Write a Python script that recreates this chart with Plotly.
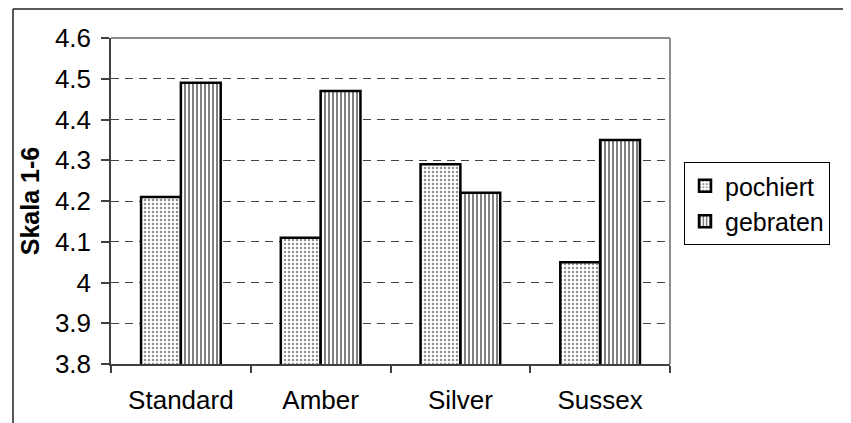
import plotly.graph_objects as go

categories = ["Standard", "Amber", "Silver", "Sussex"]
pochiert = [4.21, 4.11, 4.29, 4.05]
gebraten = [4.49, 4.47, 4.22, 4.35]
y_ticks = [3.8, 3.9, 4.0, 4.1, 4.2, 4.3, 4.4, 4.5, 4.6]
y_ticktext = ["3.8", "3.9", "4", "4.1", "4.2", "4.3", "4.4", "4.5", "4.6"]

FONT = "Liberation Sans, Arial, sans-serif"

fig = go.Figure()
fig.add_trace(go.Bar(
    name="pochiert", x=categories, y=pochiert,
    marker=dict(color="white", line=dict(color="black", width=2.5),
                pattern=dict(shape=".", size=4, solidity=0.3,
                             fgcolor="#222222", bgcolor="white")),
))
fig.add_trace(go.Bar(
    name="gebraten", x=categories, y=gebraten,
    marker=dict(color="white", line=dict(color="black", width=2.5),
                pattern=dict(shape="|", size=4, solidity=0.5,
                             fgcolor="black", bgcolor="white")),
))

# page has an 8px body margin; coordinates below are in page pixels
OFF = 8
W, H = 851 - OFF, 423 - OFF
L, R, T, B = 111 - OFF, 670 - OFF, 38 - OFF, 364 - OFF
pw, ph = R - L, B - T

def px(xpage):
    return (xpage - OFF - L) / pw

def py(ypage):
    return (B - (ypage - OFF)) / ph

fig.update_layout(
    width=W, height=H,
    margin=dict(l=L, r=W - R, t=T, b=H - B, pad=0, autoexpand=False),
    paper_bgcolor="white", plot_bgcolor="white",
    font=dict(family=FONT, size=26, color="black"),
    barmode="group", bargap=0.43, bargroupgap=0,
    showlegend=True,
    legend=dict(
        x=px(684), y=py(162), xanchor="left", yanchor="top",
        bordercolor="black", borderwidth=1, bgcolor="white",
        font=dict(family=FONT, size=25, color="black"),
        itemwidth=30, tracegroupgap=0,
    ),
    xaxis=dict(
        type="category", categoryorder="array", categoryarray=categories,
        automargin=False,
        showline=True, linecolor="#404040", linewidth=1.5,
        ticks="outside", ticklen=7, tickcolor="#404040", tickwidth=1.5,
        tickson="boundaries", showgrid=False,
        ticklabelstandoff=12,
        tickfont=dict(family=FONT, size=26, color="black"),
    ),
    yaxis=dict(
        range=[3.8, 4.6], tickmode="array", tickvals=y_ticks, ticktext=y_ticktext,
        automargin=False,
        showline=True, linecolor="#404040", linewidth=1.5,
        ticks="outside", ticklen=8, tickcolor="#404040", tickwidth=1.5,
        ticklabelstandoff=5,
        showgrid=True, gridcolor="#444444", gridwidth=1, griddash="8px,6px",
        zeroline=False,
        tickfont=dict(family=FONT, size=26, color="black"),
        title=dict(text="<b>Skala 1-6</b>", standoff=8,
                   font=dict(family=FONT, size=25, color="black")),
    ),
    shapes=[
        # top and right border of the plot area (gray)
        dict(type="line", xref="paper", yref="paper", x0=0, x1=1, y0=1, y1=1,
             line=dict(color="#8c8c8c", width=2)),
        dict(type="line", xref="paper", yref="paper", x0=1, x1=1, y0=0, y1=1,
             line=dict(color="#8c8c8c", width=2)),
        # outer chart frame (cut off at right and bottom)
        dict(type="line", xref="paper", yref="paper", x0=px(13), x1=px(880),
             y0=py(9), y1=py(9), line=dict(color="#222222", width=1.5)),
        dict(type="line", xref="paper", yref="paper", x0=px(13), x1=px(13),
             y0=py(9), y1=py(450), line=dict(color="#222222", width=1.5)),
    ],
)

fig.write_html("out.html")
